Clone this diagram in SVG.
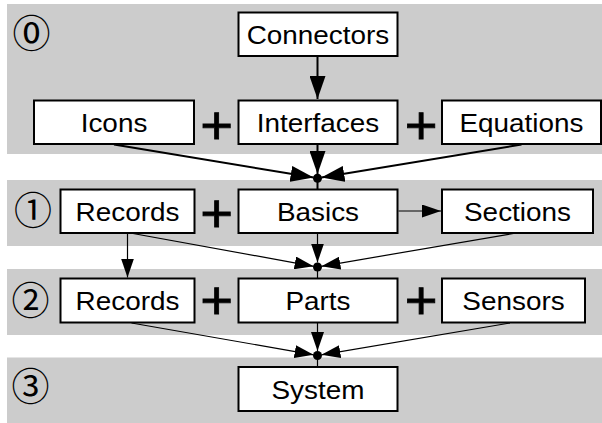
<svg xmlns="http://www.w3.org/2000/svg" width="602" height="423" viewBox="0 0 602 423">
  <style>
    .band { fill: #cccccc; }
    .box { fill: #ffffff; stroke: #000000; stroke-width: 2; }
    .label { font-family: "Liberation Sans", Arial, sans-serif; font-size: 25.6px; fill: #000000; text-anchor: middle; }
    .plus { font-family: "Liberation Sans", Arial, sans-serif; font-size: 53px; fill: #000000; stroke: #000000; stroke-width: 0.8; text-anchor: middle; }
    .step { font-family: "Noto Sans CJK JP", "DejaVu Sans", sans-serif; font-size: 38px; fill: #000000; text-anchor: middle; }
    .thick { stroke: #000000; stroke-width: 2; fill: none; }
    .thin { stroke: #000000; stroke-width: 1.2; fill: none; }
    .dot { fill: #000000; }
  </style>
  <defs>
    <marker id="headBig" markerUnits="userSpaceOnUse" markerWidth="23" markerHeight="16" refX="23" refY="8" orient="auto">
      <path d="M0,0 L23,8 L0,16 Z" fill="#000000"/>
    </marker>
    <marker id="headSmall" markerUnits="userSpaceOnUse" markerWidth="19" markerHeight="13" refX="19" refY="6.5" orient="auto">
      <path d="M0,0 L19,6.5 L0,13 Z" fill="#000000"/>
    </marker>
  </defs>

  <!-- level bands -->
  <g id="bands">
    <rect class="band" x="7" y="4" width="595" height="150"/>
    <rect class="band" x="7" y="180" width="595" height="66"/>
    <rect class="band" x="7" y="269" width="595" height="66"/>
    <rect class="band" x="7" y="357.5" width="595" height="66"/>
  </g>

  <!-- level markers -->
  <g id="levels">
    <text class="step" x="31.5" y="47.4">⓪</text>
    <text class="step" x="33" y="223.7">①</text>
    <text class="step" x="30.5" y="314.4">②</text>
    <text class="step" x="30.5" y="400.4">③</text>
  </g>

  <!-- plus signs -->
  <g id="plus-signs">
    <text class="plus" transform="translate(216.7 144) scale(1.06 1)">+</text>
    <text class="plus" transform="translate(421.2 144) scale(1.06 1)">+</text>
    <text class="plus" transform="translate(216.7 232) scale(1.06 1)">+</text>
    <text class="plus" transform="translate(216.7 319) scale(1.06 1)">+</text>
    <text class="plus" transform="translate(421.2 319) scale(1.06 1)">+</text>
  </g>

  <!-- connectors -->
  <g id="connectors">
    <line class="thick" x1="317.5" y1="57" x2="317.5" y2="99" marker-end="url(#headBig)"/>
    <line class="thick" x1="114" y1="144.5" x2="313.6" y2="177.6" marker-end="url(#headBig)"/>
    <line class="thick" x1="317.5" y1="144.5" x2="317.5" y2="174" marker-end="url(#headBig)"/>
    <line class="thick" x1="521.5" y1="144.5" x2="321.4" y2="177.6" marker-end="url(#headBig)"/>
    <circle class="dot" cx="317.5" cy="178.3" r="4.5"/>
    <line class="thick" x1="317.5" y1="178.3" x2="317.5" y2="189"/>

    <line class="thin" x1="127.5" y1="233.5" x2="127.5" y2="277.5" marker-end="url(#headSmall)"/>
    <line class="thin" x1="398.5" y1="211" x2="441" y2="211" marker-end="url(#headSmall)"/>
    <line class="thin" x1="133" y1="233.5" x2="313.6" y2="266.3" marker-end="url(#headSmall)"/>
    <line class="thin" x1="317.5" y1="233.5" x2="317.5" y2="262.5" marker-end="url(#headSmall)"/>
    <line class="thin" x1="513.5" y1="233.5" x2="321.4" y2="266.3" marker-end="url(#headSmall)"/>
    <circle class="dot" cx="317.5" cy="267" r="4.5"/>
    <line class="thin" x1="317.5" y1="267" x2="317.5" y2="278"/>

    <line class="thin" x1="131.5" y1="323" x2="313.6" y2="354.8" marker-end="url(#headSmall)"/>
    <line class="thin" x1="317.5" y1="323" x2="317.5" y2="351" marker-end="url(#headSmall)"/>
    <line class="thin" x1="510" y1="323" x2="321.4" y2="354.8" marker-end="url(#headSmall)"/>
    <circle class="dot" cx="317.5" cy="355.5" r="4.5"/>
    <line class="thin" x1="317.5" y1="355.5" x2="317.5" y2="367"/>
  </g>

  <!-- nodes -->
  <g id="connectors-node">
    <rect class="box" x="238.5" y="12.5" width="159" height="43.5"/>
    <text class="label" transform="translate(318 44) scale(1.09 1)">Connectors</text>
  </g>
  <g id="icons">
    <rect class="box" x="34" y="100.5" width="160" height="43.5"/>
    <text class="label" transform="translate(114 131.8) scale(1.09 1)">Icons</text>
  </g>
  <g id="interfaces">
    <rect class="box" x="238.5" y="100.5" width="159" height="43.5"/>
    <text class="label" transform="translate(318 131.8) scale(1.09 1)">Interfaces</text>
  </g>
  <g id="equations">
    <rect class="box" x="442" y="100.5" width="159" height="43.5"/>
    <text class="label" transform="translate(521.5 131.8) scale(1.09 1)">Equations</text>
  </g>
  <g id="records-1">
    <rect class="box" x="60.5" y="189.5" width="134" height="43.5"/>
    <text class="label" transform="translate(127.5 220.8) scale(1.09 1)">Records</text>
  </g>
  <g id="basics">
    <rect class="box" x="238.5" y="189.5" width="159" height="43.5"/>
    <text class="label" transform="translate(318 220.8) scale(1.09 1)">Basics</text>
  </g>
  <g id="sections">
    <rect class="box" x="442" y="189.5" width="151" height="43.5"/>
    <text class="label" transform="translate(517.5 220.8) scale(1.09 1)">Sections</text>
  </g>
  <g id="records-2">
    <rect class="box" x="60.5" y="278.5" width="134" height="44"/>
    <text class="label" transform="translate(127.5 310) scale(1.09 1)">Records</text>
  </g>
  <g id="parts">
    <rect class="box" x="238.5" y="278.5" width="159" height="44"/>
    <text class="label" transform="translate(318 310) scale(1.09 1)">Parts</text>
  </g>
  <g id="sensors">
    <rect class="box" x="442" y="278.5" width="143" height="44"/>
    <text class="label" transform="translate(513.5 310) scale(1.09 1)">Sensors</text>
  </g>
  <g id="system">
    <rect class="box" x="238.5" y="367" width="159" height="44"/>
    <text class="label" transform="translate(318 398.5) scale(1.09 1)">System</text>
  </g>
</svg>
